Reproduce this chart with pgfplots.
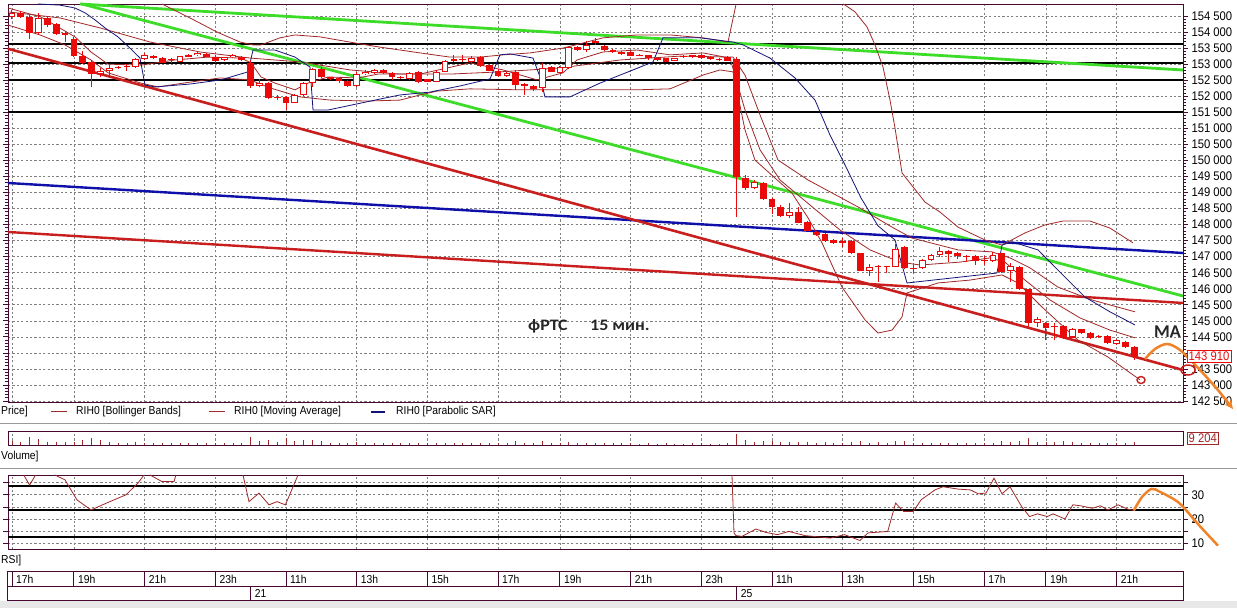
\documentclass[border=0pt]{standalone}
\usepackage{pgfplots}
\pgfplotsset{compat=1.18}
\usepackage{pgfplotstable}
\usetikzlibrary{arrows.meta}
\usepackage{fontspec}
\setmainfont{Liberation Sans}
\newfontfamily\uifont{Liberation Sans}[FakeStretch=0.9]
\newfontfamily\annfont{Carlito}[FakeStretch=1.12]
\newfontfamily\mafont{Carlito}

\definecolor{candred}{RGB}{235,10,10}
\definecolor{indred}{RGB}{160,40,40}
\definecolor{sarblue}{RGB}{20,20,120}
\definecolor{trgreen}{RGB}{60,220,40}
\definecolor{trblue}{RGB}{15,15,170}
\definecolor{trred}{RGB}{200,30,30}
\definecolor{orng}{RGB}{240,130,40}
\definecolor{framecol}{RGB}{70,10,50}
\definecolor{gridcol}{RGB}{128,128,128}

\pgfplotstableread{
x O H L C V
12.0 154460 154690 154410 154600 13000
20.8 154600 154660 154440 154460 9000
29.7 154480 154530 153780 153980 26000
38.5 153960 154600 153910 154430 19000
47.3 154430 154470 154160 154220 10000
56.2 154250 154280 153910 153930 10000
65.0 153960 154040 153700 153910 9000
73.9 153780 153840 153230 153250 10000
82.7 153250 153420 153000 153030 16000
91.5 153080 153130 152300 152690 22000
100.4 152690 152870 152590 152800 16000
109.2 152800 152970 152660 152890 9000
118.0 152920 152940 152850 152870 6000
126.9 152900 153000 152800 152940 6000
135.7 152920 153180 152870 153160 9000
144.6 153160 153340 153130 153290 7000
153.4 153260 153290 153160 153180 6000
162.2 153200 153220 153040 153050 6000
171.1 153120 153180 153050 153140 5000
179.9 153070 153260 153060 153250 6000
188.7 153230 153310 153220 153290 5000
197.6 153290 153380 153250 153360 5000
206.4 153320 153350 153220 153230 5000
215.3 153210 153290 153030 153110 6000
224.1 153130 153230 153100 153210 5000
232.9 153210 153320 153190 153290 5000
241.8 153230 153250 153100 153130 6000
250.6 153050 153130 152250 152320 26000
259.4 152320 152530 152280 152420 12000
268.3 152420 152440 151910 151940 16000
277.1 151970 152040 151880 151950 10000
286.0 151990 152010 151570 151780 22000
294.8 151800 152070 151790 152040 13000
303.6 152040 152440 152010 152420 16000
312.5 152420 152870 152280 152840 16000
321.3 152840 152920 152570 152590 12000
330.1 152590 152610 152510 152530 8000
339.0 152560 152570 152400 152480 7000
347.8 152480 152510 152290 152320 8000
356.6 152320 152760 152290 152690 10000
365.5 152690 152820 152660 152770 7000
374.3 152720 152850 152690 152820 6000
383.2 152820 152850 152700 152720 6000
392.0 152720 152740 152510 152610 6000
400.8 152590 152620 152530 152560 5000
409.7 152530 152760 152510 152720 6000
418.5 152760 152790 152400 152450 8000
427.3 152530 152540 152440 152450 6000
436.2 152450 152820 152440 152760 7000
445.0 152760 153130 152760 153100 8000
453.9 153110 153290 153070 153150 5000
462.7 153130 153290 153080 153150 5000
471.5 153080 153250 153040 153180 5000
480.4 153210 153250 152910 152940 8000
489.2 152970 153000 152790 152800 7000
498.0 152800 152850 152600 152630 7000
506.9 152630 152760 152600 152730 6000
515.7 152770 152820 152190 152350 12000
524.5 152370 152400 152040 152320 8000
533.4 152320 152350 152170 152220 7000
542.2 152250 153050 152140 152890 12000
551.1 152900 152940 152760 152770 6000
559.9 152730 152940 152720 152900 6000
568.7 152870 153540 152850 153530 11000
577.6 153540 153570 153410 153440 7000
586.4 153440 153730 153390 153600 8000
595.2 153670 153810 153600 153710 6000
604.1 153570 153600 153410 153440 7000
612.9 153440 153460 153350 153370 5000
621.8 153390 153410 153300 153320 5000
630.6 153390 153410 153240 153250 6000
639.4 153290 153310 153240 153260 4000
648.3 153290 153300 153140 153180 5000
657.1 153130 153200 153100 153180 4000
665.9 153180 153200 153060 153080 5000
674.8 153110 153200 153090 153180 4000
683.6 153250 153270 153190 153210 4000
692.4 153290 153300 153190 153210 5000
701.3 153290 153310 153170 153180 5000
710.1 153230 153250 153130 153150 4000
719.0 153160 153200 153100 153130 4000
727.8 153210 153240 153090 153110 5000
736.6 153150 153220 148250 149490 34000
745.5 149440 149550 149080 149130 16000
754.3 149130 149380 149100 149340 10000
763.1 149310 149340 148770 148790 14000
772.0 148790 148830 148330 148560 12000
780.8 148560 148600 148240 148270 11000
789.7 148270 148670 148210 148400 10000
798.5 148400 148560 148040 148060 11000
807.3 148070 148100 147790 147810 10000
816.2 147780 147800 147650 147680 8000
825.0 147710 147740 147470 147500 9000
833.8 147520 147540 147390 147420 7000
842.7 147440 147570 147290 147500 8000
851.5 147500 147530 147080 147100 9000
860.4 147100 147120 146540 146560 12000
869.2 146560 146770 146400 146690 8000
878.0 146720 146740 146220 146670 9000
886.9 146670 146710 146500 146690 6000
895.7 146690 147390 146670 147230 12000
904.5 147290 147340 146620 146640 13000
913.4 146620 146740 146480 146650 7000
922.2 146640 146920 146620 146900 7000
931.0 146900 147080 146880 147050 6000
939.9 147050 147290 147000 147190 7000
948.7 147190 147210 146840 147080 6000
957.6 147100 147140 146920 147020 5000
966.4 147000 147050 146840 147020 5000
975.2 147020 147050 146740 146870 6000
984.1 146880 147020 146740 146900 5000
992.9 146870 147150 146840 147050 6000
1001.7 147100 147120 146480 146530 12000
1010.6 146560 146790 146220 146710 9000
1019.4 146670 146700 145950 145980 14000
1028.3 145980 146000 144820 144940 22000
1037.1 144940 145130 144820 145050 10000
1045.9 144920 144960 144400 144770 11000
1054.8 144800 144920 144400 144840 9000
1063.6 144840 144860 144420 144450 12000
1072.4 144480 144780 144450 144740 9000
1081.3 144740 144760 144580 144610 7000
1090.1 144630 144650 144420 144450 8000
1098.9 144530 144560 144460 144490 6000
1107.8 144530 144560 144280 144300 8000
1116.6 144280 144440 144260 144400 6000
1125.5 144350 144380 144160 144190 7000
1134.3 144190 144220 143780 143910 9204
}\candles

\pgfplotsset{
  panel/.style={
    scale only axis, width=1175pt, xmin=8, xmax=1183,
    axis line style={draw=framecol, line width=0.9pt},
    xtick={12,73.9,144.6,215.3,286,356.6,427.3,498,559.9,630.6,701.3,772,842.7,913.4,984.1,1045.9,1116.6},
    xticklabel=\empty, xmajorgrids,
    grid style={draw=gridcol, dash pattern=on 2.2pt off 2.2pt, line width=0.6pt},
    tick style={draw=framecol, line width=0.8pt},
    xtick style={draw=none},
    tick align=outside, major tick length=5pt, minor tick length=3pt,
    clip=false,
    ticklabel style={font=\uifont\fontsize{12.5}{14}\selectfont, text=black},
  },
  candle/.style={draw=none, mark=none, error bars/.cd, y dir=plus, y explicit, error mark=none, error bar style={#1}},
}

\begin{document}
\begin{tikzpicture}
\useasboundingbox (0,0) rectangle (1237pt,608pt);
\fill[white] (0,0) rectangle (1237pt,608pt);
\fill[black!9] (0,0) rectangle (1237pt,7pt);
\draw[black!40, line width=1pt] (0,184.7pt) -- (1237pt,184.7pt);
\draw[black!40, line width=1pt] (0,139pt) -- (1237pt,139pt);

% ---------------- PRICE PANEL ----------------
\begin{axis}[panel, at={(8pt,206pt)}, anchor=south west, height=398pt,
  ymin=142470, ymax=154875,
  ytick={142500,143000,143500,144000,144500,145000,145500,146000,146500,147000,147500,148000,148500,149000,149500,150000,150500,151000,151500,152000,152500,153000,153500,154000,154500},
  yticklabels={142 500,143 000,143 500,,144 500,145 000,145 500,146 000,146 500,147 000,147 500,148 000,148 500,149 000,149 500,150 000,150 500,151 000,151 500,152 000,152 500,153 000,153 500,154 000,154 500},
  minor y tick num=4, ymajorgrids,
  yticklabel pos=right, ytick pos=both,
]
% support lines
\addplot[black, line width=2.2pt] coordinates {(8,153620) (1183,153620)};
\addplot[black, line width=2.2pt] coordinates {(8,153030) (1183,153030)};
\addplot[black, line width=2.2pt] coordinates {(8,152500) (1183,152500)};
\addplot[black, line width=2.2pt] coordinates {(8,151500) (1183,151500)};
% trend lines
\addplot[trgreen, line width=2.8pt] coordinates {(80,154875) (1183,152818)};
\addplot[trgreen, line width=2.8pt] coordinates {(82,154875) (1183,145774)};
\addplot[trblue, line width=2.4pt] coordinates {(8,149296) (1183,147114)};
\addplot[trred, line width=2.4pt] coordinates {(8,147769) (1183,145556)};
\addplot[trred, line width=2.6pt] coordinates {(8,153480) (1183,143467)};
% Bollinger upper
\addplot[indred, line width=0.8pt] coordinates {(162,154875) (190,154440) (217,154000) (240,153690) (253,153600) (261,153600) (280,153820) (295,153910) (320,153850) (355,153660) (378,153540) (420,153350) (450,153220) (480,153220) (503,153290) (530,153350) (563,153500) (603,153820) (637,153910) (670,153910) (703,153820) (728,153690) (736.1,154875)};
\addplot[indred, line width=0.8pt] coordinates {(843.4,154875) (855,154630) (867,154160) (875,153600) (883,152910) (890,151880) (895,151010) (902,149610) (925,148700) (940,148390) (958,147920) (985,147520) (1002,147360) (1025,147740) (1045,147990) (1063,148110) (1090,148110) (1110,147890) (1133,147430)};
% Bollinger lower
\addplot[indred, line width=0.8pt] coordinates {(8,154220) (40,153910) (65,153600) (91,153130) (108,152730) (141,152410) (158,152290) (190,152440) (220,152570) (250,152510) (270,152260) (287,152100) (300,151980) (330,151880) (367,151850) (400,151880) (420,152040) (437,152160) (470,152230) (520,152200) (570,152200) (637,152200) (670,152230) (703,152660) (720,152820) (733,152760) (745,150950) (755,150010) (775,149450) (792,148980) (808,148210) (822,147430) (842,146050) (865,145030) (878,144620) (892,144710) (902,145120) (907,145870) (938,146180) (970,146270) (1002,146430) (1018,146180) (1042,145430) (1078,144400) (1108,143870) (1140,143160)};
% Bollinger middle
\addplot[indred, line width=0.8pt] coordinates {(8,154630) (60,154440) (100,154130) (150,153690) (200,153380) (250,153190) (300,153070) (350,152820) (400,152690) (450,152690) (500,152760) (560,152880) (620,153130) (680,153250) (733,153220) (745,152660) (760,151420) (778,150010) (808,149390) (858,148550) (892,147920) (912,147580) (958,147210) (992,147150) (1010,146960) (1030,146650) (1058,146050) (1092,145650) (1135,145280)};
% moving average
\addplot[indred, line width=0.8pt] coordinates {(8,154750) (41,154470) (75,153850) (91,153380) (108,153000) (141,152970) (175,153130) (208,153220) (241,153190) (251,153040) (261,152600) (275,152410) (295,152200) (308,152410) (328,152600) (358,152570) (378,152690) (420,152690) (470,153040) (503,152820) (537,152510) (563,152730) (577,153130) (603,153380) (637,153440) (670,153290) (703,153350) (730,153190) (745,151570) (760,150330) (780,149390) (810,148610) (840,147830) (870,147210) (900,146830) (920,146740) (960,146830) (990,146960) (1005,146830) (1025,146270) (1050,145650) (1080,145090) (1110,144710) (1135,144470)};
% parabolic SAR
\addplot[sarblue, line width=0.8pt] coordinates {(38,154875) (60,154840) (75,154750) (85,154600) (95,154380) (105,154130) (118,153850) (130,153500) (140,153190) (145,152350) (155,152290) (190,152380) (221,152510) (248,152760) (253,153440) (275,153440) (295,153220) (310,152910) (313,151570) (328,151570) (375,151880) (400,152040) (430,152130) (460,152320) (490,152540) (500,153290) (510,153320) (533,153190) (540,152600) (545,151980) (570,151980) (600,152410) (633,152820) (653,153070) (663,153820) (700,153820) (733,153690) (743,153600) (770,153190) (795,152570) (815,151880) (830,150790) (845,149860) (861,148830) (878,147960) (895,147520) (907,146180) (997,146490) (1002,147360) (1012,147460) (1038,147210) (1058,146580) (1085,145740) (1110,145280) (1135,144870)};
% candles: wicks, bodies, hollow bodies
\addplot[candle={draw=candred, line width=1pt}]
  table[x=x, y=L, y error plus expr={\thisrow{H}-\thisrow{L}}] {\candles};
\addplot[candle={draw=candred, line width=6.8pt}]
  table[x=x, y expr={min(\thisrow{O},\thisrow{C})}, y error plus expr={max(abs(\thisrow{C}-\thisrow{O}),30)}] {\candles};
\addplot[restrict expr to domain={\thisrow{C}-\thisrow{O}}{65:1000000}, candle={draw=white, line width=4.8pt}]
  table[x=x, y expr={\thisrow{O}+32}, y error plus expr={\thisrow{C}-\thisrow{O}-64}] {\candles};
% annotations
\node[anchor=base west, inner sep=0pt, text=black!85] at (axis cs:528,144714) {\annfont\bfseries\fontsize{16}{19}\selectfont фРТС};
\node[anchor=base west, inner sep=0pt, text=black!85] at (axis cs:590,144714) {\annfont\bfseries\fontsize{16}{19}\selectfont 15 мин.};
\addplot[only marks, mark=o, mark size=3.5pt, mark options={draw=trred, line width=1.4pt, xscale=1.15}] coordinates {(1141,143155)};
\addplot[orng, line width=2.5pt, smooth, -{Stealth[length=9pt, width=8pt]}] coordinates {(1145,143810) (1155,144122) (1167,144278) (1180,144090) (1200,143467) (1218,142840) (1233,142250)};
\node[draw=candred, fill=white, text=candred, inner sep=1.5pt, anchor=west, font=\uifont\fontsize{12.5}{14}\selectfont] at (axis cs:1187,143910) {143 910};
\addplot[only marks, mark=o, mark size=5pt, mark options={draw=trred, line width=1.5pt, xscale=1.4}] coordinates {(1188,143467)};
\end{axis}
\node[anchor=base west, inner sep=0pt, text=black!85] at (1154pt,270pt) {\mafont\bfseries\fontsize{18}{21}\selectfont MA};

% legend row
\node[anchor=west, inner sep=0pt, font=\uifont\fontsize{11.5}{13}\selectfont] at (1pt,196pt) {Price]};
\draw[indred, line width=1pt] (51pt,196pt) -- (67pt,196pt);
\node[anchor=west, inner sep=0pt, font=\uifont\fontsize{11.5}{13}\selectfont] at (76pt,196pt) {RIH0 [Bollinger Bands]};
\draw[indred, line width=1pt] (209pt,196pt) -- (225pt,196pt);
\node[anchor=west, inner sep=0pt, font=\uifont\fontsize{11.5}{13}\selectfont] at (234pt,196pt) {RIH0 [Moving Average]};
\draw[sarblue, line width=1.2pt] (371pt,196pt) -- (385pt,196pt);
\node[anchor=west, inner sep=0pt, font=\uifont\fontsize{11.5}{13}\selectfont] at (396pt,196pt) {RIH0 [Parabolic SAR]};

% ---------------- VOLUME PANEL ----------------
\begin{axis}[panel, at={(8pt,163pt)}, anchor=south west, height=14pt,
  ymin=0, ymax=45000, ytick=\empty]
\addplot[ycomb, draw=indred, line width=0.8pt, mark=none] table[x=x, y=V] {\candles};
\node[draw=indred, fill=white, text=indred, inner sep=1.5pt, anchor=west, font=\uifont\fontsize{12.5}{14}\selectfont] at (axis cs:1187,22500) {9 204};
\end{axis}
\node[anchor=west, inner sep=0pt, font=\uifont\fontsize{11.5}{13}\selectfont] at (1pt,151pt) {Volume]};

% ---------------- RSI PANEL ----------------
\begin{axis}[panel, at={(8pt,58.7pt)}, anchor=south west, height=74.3pt,
  ymin=7.7, ymax=38.1, ytick={10,15,20,25,30,35}, yticklabels={10,,20,,30,},
  ymajorgrids, yticklabel pos=right, ytick pos=both]
\addplot[black, line width=2pt] coordinates {(8,33.8) (1183,33.8)};
\addplot[black, line width=2pt] coordinates {(8,23.6) (1183,23.6)};
\addplot[black, line width=2pt] coordinates {(8,12.6) (1183,12.6)};
\addplot[indred, line width=0.8pt] coordinates {(23.7,38.1) (29.6,34.0) (35.6,38.1)};
\addplot[indred, line width=0.8pt] coordinates {(55,38.1) (65,36.1) (71,32.0) (77,27.9) (91,23.8) (107,26.7) (126,30.0) (138,34.8) (144,38.1)};
\addplot[indred, line width=0.8pt] coordinates {(150,38.1) (162,35.4) (174,35.4) (176,38.1)};
\addplot[indred, line width=0.8pt] coordinates {(243,38.1) (249,27.2) (259,30.7) (269,25.9) (277,27.2) (285.4,25.9) (298,38.1)};
\addplot[indred, line width=0.8pt] coordinates {(732,38.1) (734,14.4) (736,13.3) (742,13.0) (756,16.0) (766,14.6) (777.5,13.7) (789,15.0) (805,13.3) (813,13.0) (830.6,12.3) (844.4,13.7) (860,11.3) (868,14.4) (887.7,15.0) (895.6,26.6) (903.5,23.2) (913.3,23.2) (921.2,28.0) (935,32.0) (943,33.3) (958.6,32.3) (970.4,32.0) (978.3,30.4) (986,30.7) (994,36.8) (1002,30.4) (1010,33.3) (1013.7,30.7) (1021.6,25.2) (1029.5,21.1) (1037.4,22.2) (1047.2,21.1) (1053,22.2) (1065,20.1) (1072.8,25.9) (1080.6,25.5) (1092.4,24.5) (1100.3,25.5) (1108,23.8) (1118,25.9) (1127.9,24.1) (1133.8,23.6)};
\addplot[orng, line width=2.5pt, smooth] coordinates {(1133.8,23.6) (1142,29.1) (1151.5,32.4) (1160,31.2) (1179,26.7) (1198.7,17.7) (1218,9.2)};
\end{axis}
\node[anchor=west, inner sep=0pt, font=\uifont\fontsize{11.5}{13}\selectfont] at (1pt,47.3pt) {RSI]};

% ---------------- TIME AXIS ----------------
\begin{scope}[draw=framecol, line width=0.9pt]
\draw (7pt,7.3pt) rectangle (1183pt,36.3pt);
\draw (7pt,21.3pt) -- (1183pt,21.3pt);
\foreach \xx in {12,73.9,144.6,215.3,286,356.6,427.3,498,559.9,630.6,701.3,772,842.7,913.4,984.1,1045.9,1116.6}
  \draw (\xx pt,21.3pt) -- (\xx pt,36.3pt);
\draw (250.6pt,7.3pt) -- (250.6pt,21.3pt);
\draw (736.6pt,7.3pt) -- (736.6pt,21.3pt);
\end{scope}
\begin{scope}[every node/.style={anchor=west, inner sep=0pt, font=\uifont\fontsize{11.5}{13}\selectfont}]
\node at (16pt,28.8pt) {17h};
\node at (77.9pt,28.8pt) {19h};
\node at (148.6pt,28.8pt) {21h};
\node at (219.3pt,28.8pt) {23h};
\node at (290pt,28.8pt) {11h};
\node at (360.6pt,28.8pt) {13h};
\node at (431.3pt,28.8pt) {15h};
\node at (502pt,28.8pt) {17h};
\node at (563.9pt,28.8pt) {19h};
\node at (634.6pt,28.8pt) {21h};
\node at (705.3pt,28.8pt) {23h};
\node at (776pt,28.8pt) {11h};
\node at (846.7pt,28.8pt) {13h};
\node at (917.4pt,28.8pt) {15h};
\node at (988.1pt,28.8pt) {17h};
\node at (1049.9pt,28.8pt) {19h};
\node at (1120.6pt,28.8pt) {21h};
\node at (254.6pt,14.3pt) {21};
\node at (740.6pt,14.3pt) {25};
\end{scope}
\end{tikzpicture}
\end{document}
